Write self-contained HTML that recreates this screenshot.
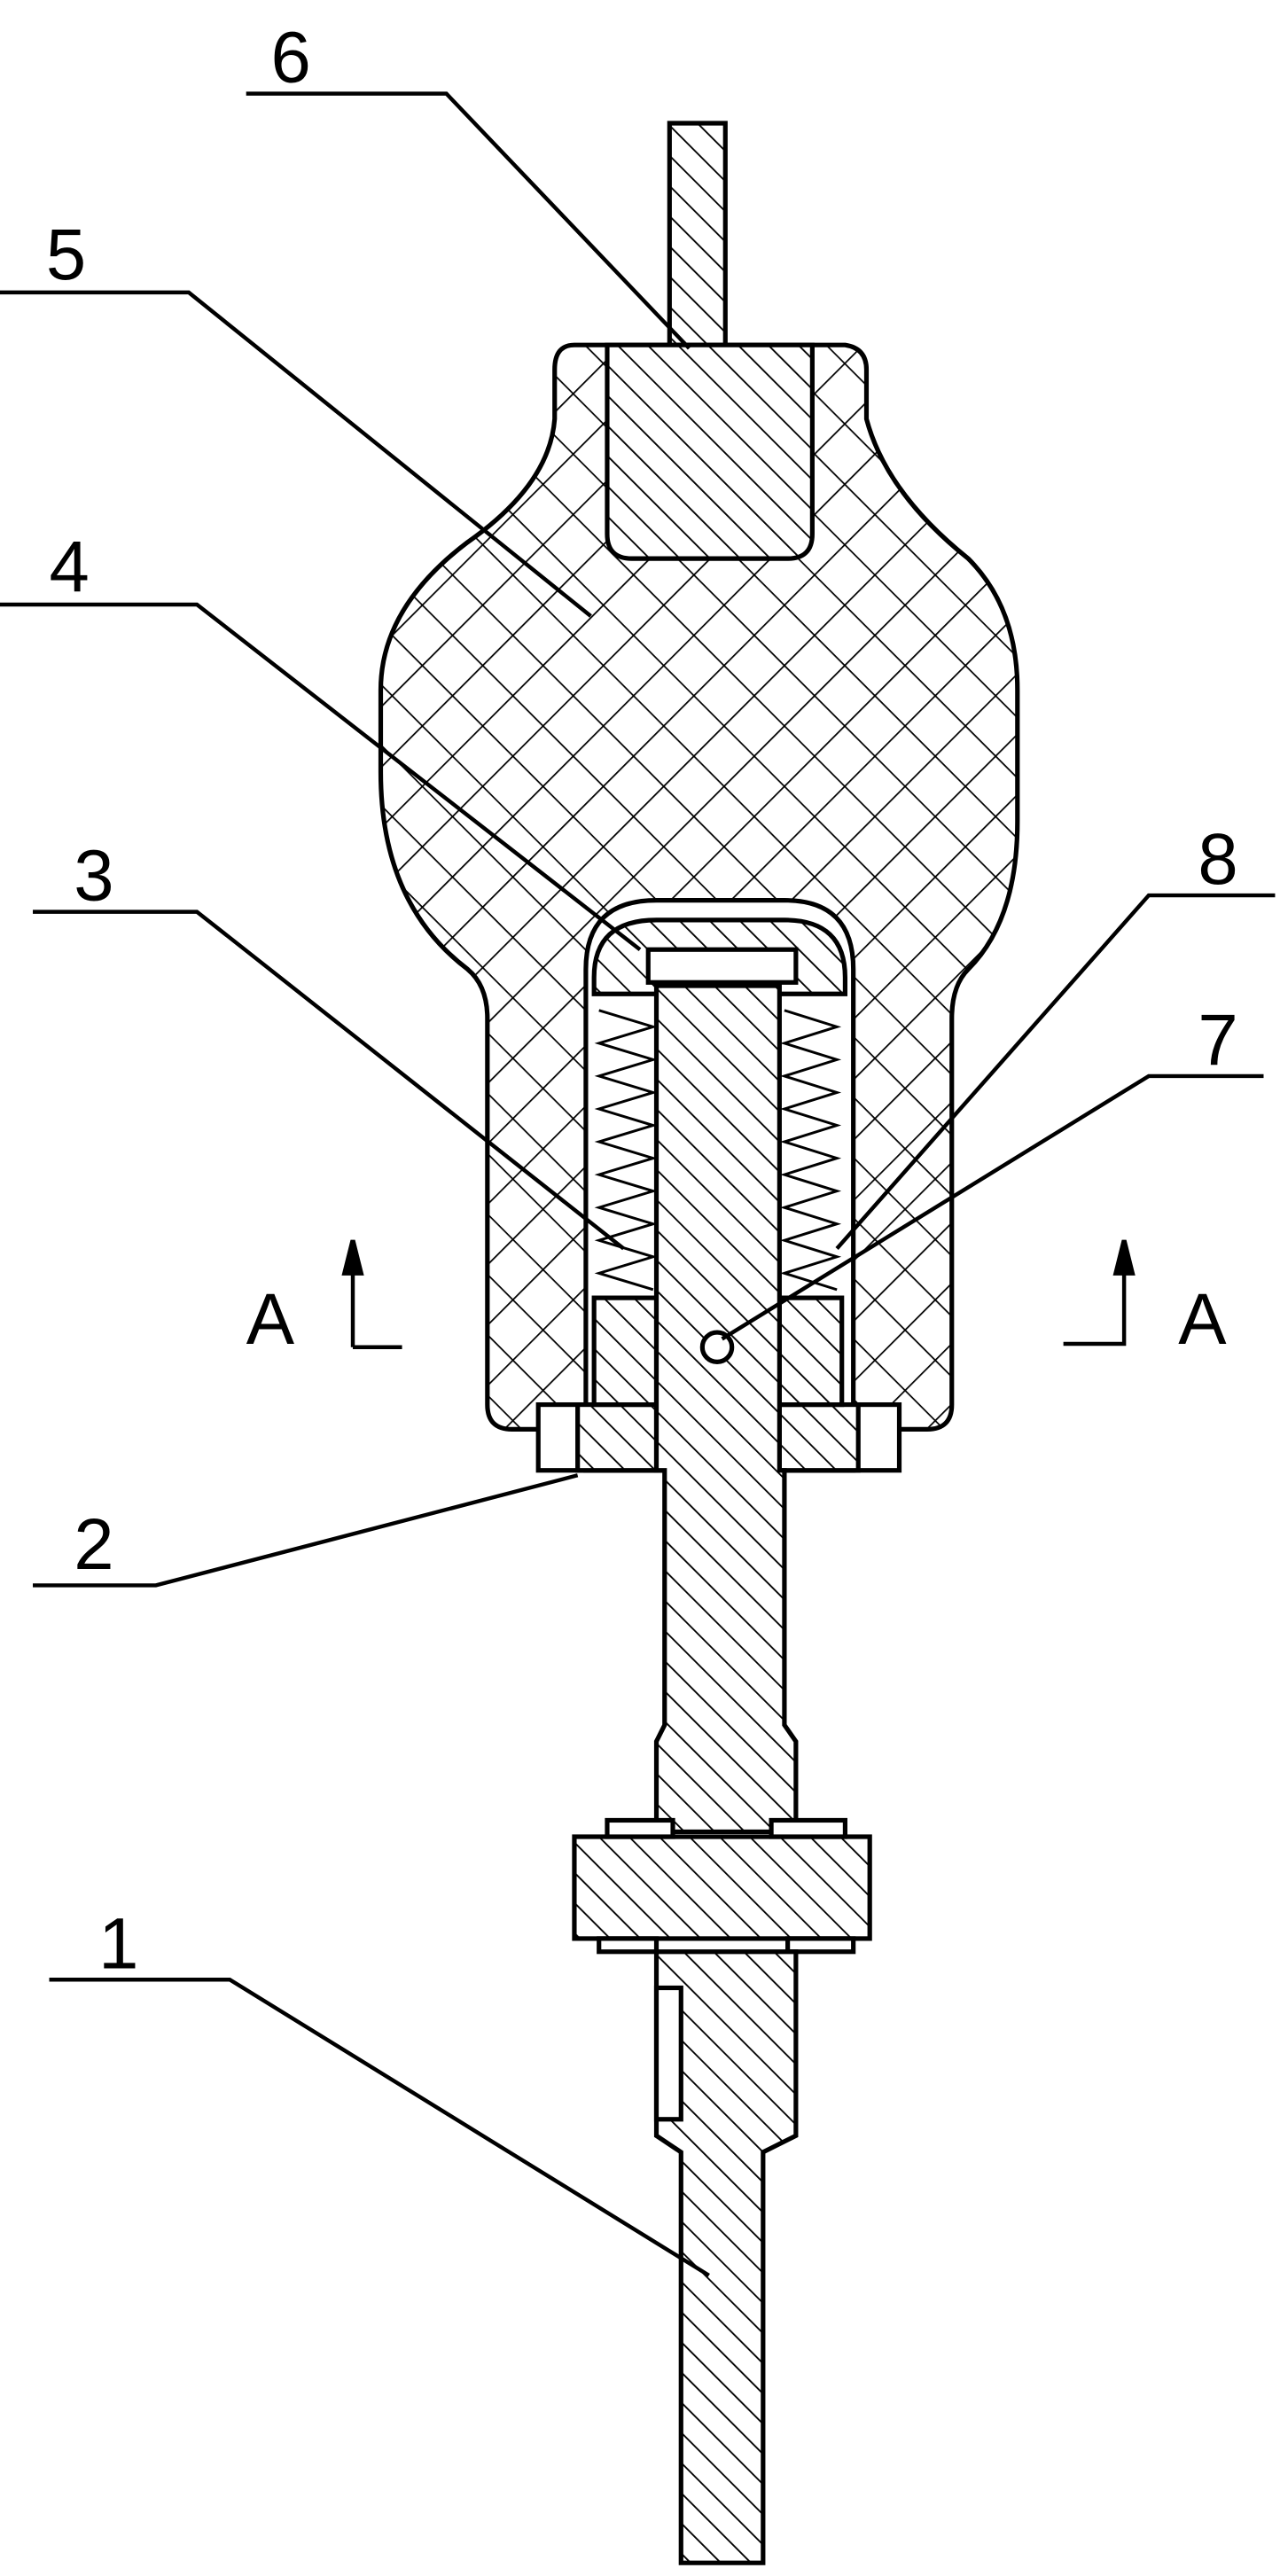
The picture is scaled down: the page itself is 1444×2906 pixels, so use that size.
<!DOCTYPE html>
<html><head><meta charset="utf-8"><style>
html,body{margin:0;padding:0;background:#fff;}
svg{display:block;}
text{font-family:"Liberation Sans",sans-serif;font-size:44px;fill:#000;}
</style></head><body>
<svg width="1444" height="2906" viewBox="0 0 780 1568" preserveAspectRatio="none" xmlns="http://www.w3.org/2000/svg">
<defs>
<pattern id="h" width="13" height="13" patternUnits="userSpaceOnUse" patternTransform="rotate(-45)">
<rect width="13" height="13" fill="#fff"/><line x1="0" y1="0" x2="0" y2="13" stroke="#000" stroke-width="2"/></pattern>
<pattern id="x" width="26" height="26" patternUnits="userSpaceOnUse" patternTransform="rotate(45)">
<rect width="26" height="26" fill="#fff"/><line x1="0" y1="0" x2="0" y2="26" stroke="#000" stroke-width="1.9"/><line x1="0" y1="0" x2="26" y2="0" stroke="#000" stroke-width="1.9"/></pattern>
</defs>
<g stroke="#000" stroke-width="2.8" fill="none">
<path d="M408 75 L442 75 L442 215 L408 215 Z" fill="url(#h)"/>
<path d="M350 210 L515 210 Q528 212 528 225 L528 255 Q540 300 590 340 Q620 370 620 420 L620 500 Q620 560 590 590 Q580 600 580 620 L580 855 Q580 870 565 870 L312 870 Q297 870 297 855 L297 620 Q297 600 285 590 Q232 550 232 470 L232 420 Q232 370 285 330 Q335 295 338 255 L338 225 Q338 210 350 210 Z" fill="url(#x)"/>
<path d="M370 210 L495 210 L495 325 Q495 340 480 340 L385 340 Q370 340 370 325 Z" fill="url(#h)"/>
<path d="M357 895 L357 590 Q357 548 400 548 L478 548 Q520 548 520 590 L520 895 Z" fill="#fff"/>
<path d="M362 605 L515 605 L515 595 Q515 560 478 560 L400 560 Q362 560 362 595 Z" fill="url(#h)"/>
<rect x="395" y="578" width="90" height="20" fill="#fff"/>
<rect x="328" y="855" width="220" height="40" fill="#fff"/>
<rect x="352" y="855" width="48" height="40" fill="url(#h)"/>
<rect x="475" y="855" width="48" height="40" fill="url(#h)"/>
<rect x="362" y="790" width="38" height="65" fill="url(#h)"/>
<rect x="475" y="790" width="38" height="65" fill="url(#h)"/>
<path d="M365 615 L398 625 L365 635 L398 645 L365 655 L398 665 L365 675 L398 685 L365 695 L398 705 L365 715 L398 725 L365 735 L398 745 L365 755 L398 765 L365 775 L398 785" stroke-width="1.6"/>
<path d="M478 615 L510 625 L478 635 L510 645 L478 655 L510 665 L478 675 L510 685 L478 695 L510 705 L478 715 L510 725 L478 735 L510 745 L478 755 L510 765 L478 775 L510 785" stroke-width="1.6"/>
<path d="M400 600 L475 600 L475 895 L478 895 L478 1050 L485 1060 L485 1115 L400 1115 L400 1060 L405 1050 L405 895 L400 895 Z" fill="url(#h)"/>
<rect x="350" y="1118" width="180" height="62" fill="url(#h)"/>
<rect x="370" y="1108" width="40" height="10" fill="#fff"/><rect x="470" y="1108" width="45" height="10" fill="#fff"/>
<rect x="365" y="1180" width="35" height="8" fill="#fff"/><rect x="480" y="1180" width="40" height="8" fill="#fff"/>
<path d="M400 1188 L485 1188 L485 1300 L465 1310 L465 1560 L415 1560 L415 1310 L400 1300 Z" fill="url(#h)"/>
<rect x="400" y="1210" width="15" height="80" fill="#fff"/>
<circle cx="437" cy="820" r="9" fill="#fff"/>
<g stroke-width="2.4">
<path d="M150 57 L272 57 L420 212"/>
<path d="M0 178 L115 178 L360 375"/>
<path d="M0 368 L120 368 L390 578"/>
<path d="M20 555 L120 555 L380 760"/>
<path d="M20 965 L95 965 L352 898"/>
<path d="M30 1205 L140 1205 L432 1385"/>
<path d="M777 545 L700 545 L510 760"/>
<path d="M770 655 L700 655 L440 815"/>
<path d="M215 820 L245 820 M215 820 L215 760"/>
<path d="M648 818 L685 818 L685 760"/>
</g>
<path d="M215 755 L210 775 L220 775 Z M685 755 L680 775 L690 775 Z" fill="#000"/>
</g>
<text x="165" y="50">6</text>
<text x="28" y="170">5</text>
<text x="30" y="360">4</text>
<text x="45" y="548">3</text>
<text x="45" y="955">2</text>
<text x="60" y="1198">1</text>
<text x="730" y="538">8</text>
<text x="730" y="648">7</text>
<text x="150" y="818">A</text>
<text x="718" y="818">A</text>
</svg>
</body></html>
